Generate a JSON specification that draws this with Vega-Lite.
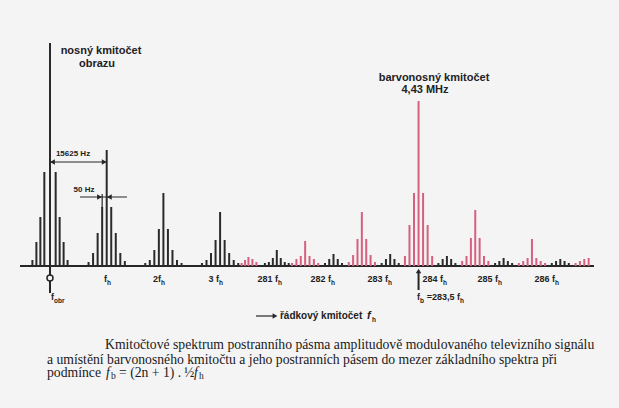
{
  "$schema": "https://vega.github.io/schema/vega-lite/v6.json",
  "width": 619,
  "height": 408,
  "padding": 0,
  "autosize": {"type": "none"},
  "background": "#f4f4f5",
  "config": {"view": {"stroke": null}},
  "datasets": {
    "lines": [
      {"x": -0.31, "a": 6, "band": "jas"}, {"x": -0.24, "a": 24, "band": "jas"}, {"x": -0.17, "a": 49, "band": "jas"}, {"x": -0.1, "a": 94, "band": "jas"}, {"x": 0, "a": 223, "band": "jas"}, {"x": 0.1, "a": 94, "band": "jas"}, {"x": 0.17, "a": 49, "band": "jas"}, {"x": 0.24, "a": 24, "band": "jas"}, {"x": 0.31, "a": 6, "band": "jas"},
      {"x": 0.68, "a": 4, "band": "jas"}, {"x": 0.76, "a": 13, "band": "jas"}, {"x": 0.84, "a": 33, "band": "jas"}, {"x": 0.92, "a": 59, "band": "jas"}, {"x": 1, "a": 116, "band": "jas"}, {"x": 1.08, "a": 59, "band": "jas"}, {"x": 1.16, "a": 33, "band": "jas"}, {"x": 1.24, "a": 13, "band": "jas"}, {"x": 1.32, "a": 5, "band": "jas"},
      {"x": 1.68, "a": 3, "band": "jas"}, {"x": 1.76, "a": 6, "band": "jas"}, {"x": 1.84, "a": 16, "band": "jas"}, {"x": 1.92, "a": 37, "band": "jas"}, {"x": 2, "a": 73, "band": "jas"}, {"x": 2.08, "a": 37, "band": "jas"}, {"x": 2.16, "a": 16, "band": "jas"}, {"x": 2.24, "a": 6, "band": "jas"}, {"x": 2.32, "a": 3, "band": "jas"},
      {"x": 2.68, "a": 3, "band": "jas"}, {"x": 2.76, "a": 6, "band": "jas"}, {"x": 2.84, "a": 13, "band": "jas"}, {"x": 2.92, "a": 26, "band": "jas"}, {"x": 3, "a": 54, "band": "jas"}, {"x": 3.08, "a": 26, "band": "jas"}, {"x": 3.16, "a": 13, "band": "jas"}, {"x": 3.24, "a": 6, "band": "jas"}, {"x": 3.32, "a": 3, "band": "jas"},
      {"x": 3.38, "a": 3, "band": "barva"}, {"x": 3.44, "a": 6, "band": "barva"}, {"x": 3.5, "a": 9, "band": "barva"}, {"x": 3.57, "a": 7, "band": "barva"}, {"x": 3.64, "a": 4, "band": "barva"},
      {"x": 3.79, "a": 3, "band": "jas"}, {"x": 3.86, "a": 4, "band": "jas"}, {"x": 3.93, "a": 8, "band": "jas"}, {"x": 4, "a": 16, "band": "jas"}, {"x": 4.07, "a": 8, "band": "jas"}, {"x": 4.14, "a": 4, "band": "jas"}, {"x": 4.21, "a": 3, "band": "jas"},
      {"x": 4.269, "a": 3, "band": "barva"}, {"x": 4.346, "a": 7, "band": "barva"}, {"x": 4.423, "a": 10, "band": "barva"}, {"x": 4.5, "a": 25, "band": "barva"}, {"x": 4.577, "a": 10, "band": "barva"}, {"x": 4.654, "a": 7, "band": "barva"}, {"x": 4.731, "a": 3, "band": "barva"},
      {"x": 4.85, "a": 3, "band": "jas"}, {"x": 4.925, "a": 7, "band": "jas"}, {"x": 5, "a": 12, "band": "jas"}, {"x": 5.075, "a": 7, "band": "jas"}, {"x": 5.15, "a": 3, "band": "jas"},
      {"x": 5.269, "a": 4, "band": "barva"}, {"x": 5.346, "a": 11, "band": "barva"}, {"x": 5.423, "a": 27, "band": "barva"}, {"x": 5.5, "a": 54, "band": "barva"}, {"x": 5.577, "a": 27, "band": "barva"}, {"x": 5.654, "a": 11, "band": "barva"}, {"x": 5.731, "a": 4, "band": "barva"},
      {"x": 5.85, "a": 3, "band": "jas"}, {"x": 5.925, "a": 7, "band": "jas"}, {"x": 6, "a": 12, "band": "jas"}, {"x": 6.075, "a": 7, "band": "jas"}, {"x": 6.15, "a": 3, "band": "jas"},
      {"x": 6.26, "a": 10, "band": "barva"}, {"x": 6.34, "a": 41, "band": "barva"}, {"x": 6.42, "a": 73, "band": "barva"}, {"x": 6.5, "a": 165, "band": "barva"}, {"x": 6.58, "a": 73, "band": "barva"}, {"x": 6.66, "a": 41, "band": "barva"}, {"x": 6.74, "a": 10, "band": "barva"},
      {"x": 6.85, "a": 3, "band": "jas"}, {"x": 6.925, "a": 7, "band": "jas"}, {"x": 7, "a": 10, "band": "jas"}, {"x": 7.075, "a": 7, "band": "jas"}, {"x": 7.15, "a": 3, "band": "jas"},
      {"x": 7.269, "a": 5, "band": "barva"}, {"x": 7.346, "a": 10, "band": "barva"}, {"x": 7.423, "a": 28, "band": "barva"}, {"x": 7.5, "a": 56, "band": "barva"}, {"x": 7.577, "a": 28, "band": "barva"}, {"x": 7.654, "a": 10, "band": "barva"}, {"x": 7.731, "a": 5, "band": "barva"},
      {"x": 7.85, "a": 3, "band": "jas"}, {"x": 7.925, "a": 5, "band": "jas"}, {"x": 8, "a": 8, "band": "jas"}, {"x": 8.075, "a": 5, "band": "jas"}, {"x": 8.15, "a": 3, "band": "jas"},
      {"x": 8.269, "a": 3, "band": "barva"}, {"x": 8.346, "a": 5, "band": "barva"}, {"x": 8.423, "a": 8, "band": "barva"}, {"x": 8.5, "a": 27, "band": "barva"}, {"x": 8.577, "a": 8, "band": "barva"}, {"x": 8.654, "a": 5, "band": "barva"}, {"x": 8.731, "a": 3, "band": "barva"},
      {"x": 8.85, "a": 3, "band": "jas"}, {"x": 8.925, "a": 5, "band": "jas"}, {"x": 9, "a": 7, "band": "jas"}, {"x": 9.075, "a": 5, "band": "jas"}, {"x": 9.15, "a": 3, "band": "jas"},
      {"x": 9.269, "a": 3, "band": "barva"}, {"x": 9.346, "a": 5, "band": "barva"}, {"x": 9.423, "a": 7, "band": "barva"}, {"x": 9.5, "a": 8, "band": "barva"}
    ],
    "segs": [
      {"x": -0.529, "x2": 9.594, "a": 0, "a2": 0, "kind": "axis"},
      {"x": 0, "x2": 0, "a": 0, "a2": -27, "kind": "axis"},
      {"x": 6.5, "x2": 6.5, "a": -6, "a2": -24, "kind": "axis"},
      {"x": 0, "x2": 1, "a": 104, "a2": 104, "kind": "dim"},
      {"x": 0.529, "x2": 1.358, "a": 69, "a2": 69, "kind": "dim"},
      {"x": 0.92, "x2": 0.92, "a": 58, "a2": 72, "kind": "dim"},
      {"x": 3.633, "x2": 3.933, "a": -50, "a2": -50, "kind": "dim"}
    ],
    "heads": [
      {"x": 6.5, "a": -5, "dir": "up"},
      {"x": 0.044, "a": 104, "dir": "left"},
      {"x": 0.956, "a": 104, "dir": "right"},
      {"x": 0.873, "a": 69, "dir": "right"},
      {"x": 1.047, "a": 69, "dir": "left"},
      {"x": 3.968, "a": -50, "dir": "right"},
      {"x": 0, "a": -12, "dir": "ring"}
    ],
    "txt": [
      {"x": 0.899, "a": 215, "t": "nosný kmitočet", "s": "note"},
      {"x": 0.829, "a": 202, "t": "obrazu", "s": "note"},
      {"x": 6.772, "a": 188, "t": "barvonosný kmitočet", "s": "note"},
      {"x": 6.614, "a": 176, "t": "4,43 MHz", "s": "note"},
      {"x": 0.406, "a": 112, "t": "15625 Hz", "s": "dim"},
      {"x": 0.6, "a": 76, "t": "50 Hz", "s": "dim"},
      {"x": 1.005, "a": -13, "t": "f", "s": "tick"},
      {"x": 1.958, "a": -13, "t": "2f", "s": "tick"},
      {"x": 2.981, "a": -13, "t": "3 f", "s": "tick"},
      {"x": 4.021, "a": -13, "t": "281 f", "s": "tick"},
      {"x": 4.956, "a": -13, "t": "282 f", "s": "tick"},
      {"x": 5.961, "a": -13, "t": "283 f", "s": "tick"},
      {"x": 6.931, "a": -13, "t": "284 f", "s": "tick"},
      {"x": 7.901, "a": -13, "t": "285 f", "s": "tick"},
      {"x": 8.907, "a": -13, "t": "286 f", "s": "tick"},
      {"x": 0.0705, "a": -31, "t": "f", "s": "tick"},
      {"x": 6.526, "a": -31, "t": "f", "s": "tick"},
      {"x": 7.231, "a": -31, "t": "=283,5 f", "s": "tick"},
      {"x": 1.005, "a": -17, "t": "h", "s": "tsub"},
      {"x": 1.958, "a": -17, "t": "h", "s": "tsub"},
      {"x": 2.981, "a": -17, "t": "h", "s": "tsub"},
      {"x": 4.021, "a": -17, "t": "h", "s": "tsub"},
      {"x": 4.956, "a": -17, "t": "h", "s": "tsub"},
      {"x": 5.961, "a": -17, "t": "h", "s": "tsub"},
      {"x": 6.931, "a": -17, "t": "h", "s": "tsub"},
      {"x": 7.901, "a": -17, "t": "h", "s": "tsub"},
      {"x": 8.907, "a": -17, "t": "h", "s": "tsub"},
      {"x": 0.0705, "a": -35, "t": "obr", "s": "tsub"},
      {"x": 6.526, "a": -35, "t": "b", "s": "tsub"},
      {"x": 7.231, "a": -35, "t": "h", "s": "tsub"},
      {"x": 4.056, "a": -50, "t": "řádkový kmitočet", "s": "title"},
      {"x": 5.591, "a": -50, "t": "f", "s": "titlef"},
      {"x": 5.679, "a": -54, "t": "h", "s": "tsub"},
      {"x": 0.97, "a": -79, "t": "Kmitočtové spektrum postranního pásma amplitudově modulovaného televizního signálu", "s": "cap"},
      {"x": -0.0529, "a": -94, "t": "a umístění barvonosného kmitočtu a jeho postranních pásem do mezer základního spektra při", "s": "cap"},
      {"x": -0.0529, "a": -107, "t": "podmínce", "s": "cap"},
      {"x": 1.217, "a": -107, "t": "= (2n + 1) .", "s": "cap"},
      {"x": 2.363, "a": -107, "t": "½", "s": "cap"},
      {"x": 0.988, "a": -107, "t": "f", "s": "capf"},
      {"x": 2.54, "a": -107, "t": "f", "s": "capf"},
      {"x": 1.076, "a": -110, "t": "b", "s": "capsub"},
      {"x": 2.628, "a": -110, "t": "h", "s": "capsub"}
    ]
  },
  "encoding": {
    "x": {"field": "x", "type": "quantitative", "scale": {"domain": [-0.8818, 10.0353], "nice": false, "zero": false}, "axis": null},
    "y": {"field": "a", "type": "quantitative", "scale": {"domain": [-142, 266], "nice": false, "zero": false}, "axis": null}
  },
  "layer": [
    {
      "data": {"name": "segs"},
      "transform": [{"filter": "datum.kind === 'axis'"}],
      "mark": {"type": "rule", "strokeWidth": 2, "color": "#262626"},
      "encoding": {"x2": {"field": "x2"}, "y2": {"field": "a2"}}
    },
    {
      "data": {"name": "segs"},
      "transform": [{"filter": "datum.kind === 'dim'"}],
      "mark": {"type": "rule", "strokeWidth": 1.2, "color": "#262626"},
      "encoding": {"x2": {"field": "x2"}, "y2": {"field": "a2"}}
    },
    {
      "data": {"name": "lines"},
      "mark": {"type": "rule", "strokeWidth": 2},
      "encoding": {
        "y2": {"datum": 0},
        "color": {"field": "band", "type": "nominal", "scale": {"domain": ["jas", "barva"], "range": ["#2a2a2a", "#d6607f"]}, "legend": null}
      }
    },
    {
      "data": {"name": "heads"},
      "transform": [{"filter": "datum.dir !== 'ring'"}],
      "mark": {"type": "point", "filled": true, "size": 30, "color": "#262626", "opacity": 1},
      "encoding": {
        "shape": {"field": "dir", "type": "nominal", "scale": {"domain": ["up", "left", "right"], "range": ["triangle-up", "triangle-left", "triangle-right"]}, "legend": null}
      }
    },
    {
      "data": {"name": "heads"},
      "transform": [{"filter": "datum.dir === 'ring'"}],
      "mark": {"type": "point", "shape": "circle", "filled": false, "size": 36, "fill": "#f4f4f5", "fillOpacity": 1, "stroke": "#262626", "strokeWidth": 1.5, "opacity": 1}
    },
    {
      "data": {"name": "txt"},
      "transform": [{"filter": "datum.s === 'note'"}],
      "mark": {"type": "text", "font": "Liberation Sans", "fontWeight": "bold", "fontSize": 11, "align": "center", "baseline": "middle", "color": "#222222"},
      "encoding": {"text": {"field": "t"}}
    },
    {
      "data": {"name": "txt"},
      "transform": [{"filter": "datum.s === 'dim'"}],
      "mark": {"type": "text", "font": "Liberation Sans", "fontWeight": "bold", "fontSize": 8, "align": "center", "baseline": "middle", "color": "#222222"},
      "encoding": {"text": {"field": "t"}}
    },
    {
      "data": {"name": "txt"},
      "transform": [{"filter": "datum.s === 'tick'"}],
      "mark": {"type": "text", "font": "Liberation Sans", "fontWeight": "bold", "fontSize": 9, "align": "right", "baseline": "middle", "color": "#222222"},
      "encoding": {"text": {"field": "t"}}
    },
    {
      "data": {"name": "txt"},
      "transform": [{"filter": "datum.s === 'tsub'"}],
      "mark": {"type": "text", "font": "Liberation Sans", "fontWeight": "bold", "fontSize": 6.5, "align": "left", "baseline": "middle", "color": "#222222"},
      "encoding": {"text": {"field": "t"}}
    },
    {
      "data": {"name": "txt"},
      "transform": [{"filter": "datum.s === 'title'"}],
      "mark": {"type": "text", "font": "Liberation Sans", "fontWeight": "bold", "fontSize": 10, "align": "left", "baseline": "middle", "color": "#222222"},
      "encoding": {"text": {"field": "t"}}
    },
    {
      "data": {"name": "txt"},
      "transform": [{"filter": "datum.s === 'titlef'"}],
      "mark": {"type": "text", "font": "Liberation Sans", "fontWeight": "bold", "fontStyle": "italic", "fontSize": 11, "align": "left", "baseline": "middle", "color": "#222222"},
      "encoding": {"text": {"field": "t"}}
    },
    {
      "data": {"name": "txt"},
      "transform": [{"filter": "datum.s === 'cap'"}],
      "mark": {"type": "text", "font": "Liberation Serif, DejaVu Serif, serif", "fontSize": 13.7, "align": "left", "baseline": "middle", "color": "#1a1a1a"},
      "encoding": {"text": {"field": "t"}}
    },
    {
      "data": {"name": "txt"},
      "transform": [{"filter": "datum.s === 'capf'"}],
      "mark": {"type": "text", "font": "Liberation Serif, DejaVu Serif, serif", "fontStyle": "italic", "fontSize": 13.7, "align": "left", "baseline": "middle", "color": "#1a1a1a"},
      "encoding": {"text": {"field": "t"}}
    },
    {
      "data": {"name": "txt"},
      "transform": [{"filter": "datum.s === 'capsub'"}],
      "mark": {"type": "text", "font": "Liberation Serif, DejaVu Serif, serif", "fontSize": 9.5, "align": "left", "baseline": "middle", "color": "#1a1a1a"},
      "encoding": {"text": {"field": "t"}}
    }
  ]
}
